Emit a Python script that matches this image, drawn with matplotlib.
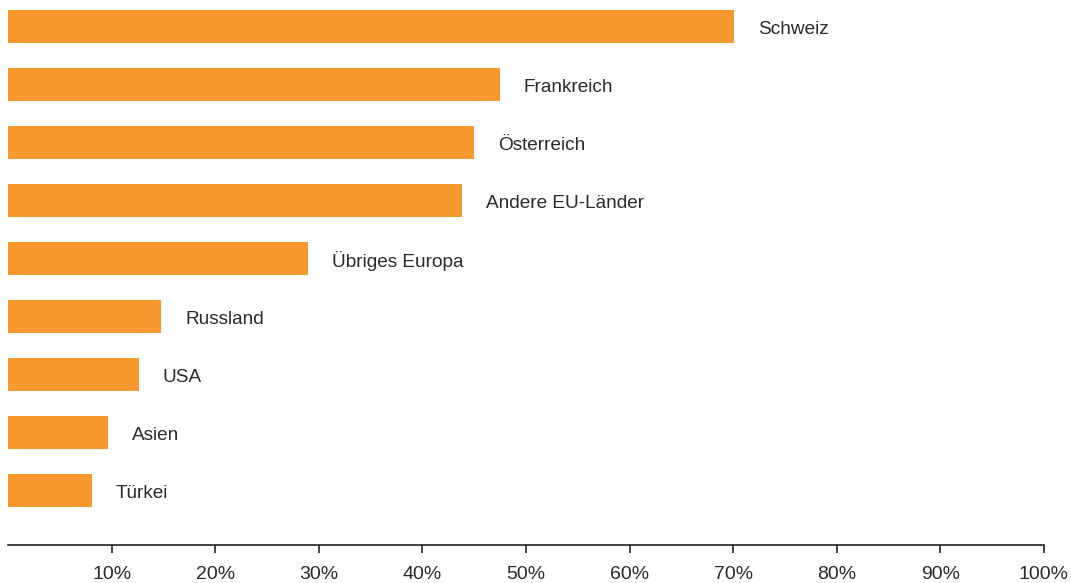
import matplotlib
matplotlib.use("Agg")
import matplotlib.pyplot as plt
from matplotlib.ticker import FixedLocator

plt.rcParams['font.family'] = ['Liberation Sans', 'DejaVu Sans']

# Daten (Anteil in %)
laender = ["Schweiz", "Frankreich", "Österreich", "Andere EU-Länder", "Übriges Europa",
           "Russland", "USA", "Asien", "Türkei"]
anteile = [70.1, 47.5, 45.0, 43.8, 29.0, 14.8, 12.6, 9.7, 8.1]
tick_werte = [10, 20, 30, 40, 50, 60, 70, 80, 90, 100]
tick_labels = ["10%", "20%", "30%", "40%", "50%", "60%", "70%", "80%", "90%", "100%"]

W, H = 1071, 583
fig = plt.figure(figsize=(W / 100, H / 100), dpi=100)
ax = fig.add_axes([8 / W, 38 / H, 1036 / W, 545 / H])

orange = "#F7992E"
pos = list(range(len(laender)))
ax.barh(pos, anteile, height=0.57, color=orange)

for p, v, name in zip(pos, anteile, laender):
    ax.text(v + 2.3, p + 0.05, name, va="center", ha="left", fontsize=13.7, color="#2a2a2a")

ax.set_xlim(0, 100)
ax.set_ylim(8.94, -0.457)

for s in ["top", "right", "left"]:
    ax.spines[s].set_visible(False)
ax.spines["bottom"].set_color("#222222")
ax.spines["bottom"].set_linewidth(1.2)

ax.set_yticks([])
ax.xaxis.set_major_locator(FixedLocator(tick_werte))
ax.set_xticklabels(tick_labels)
ax.tick_params(axis="x", length=6, width=1.2, color="#222222", labelsize=14,
               labelcolor="#2a2a2a", pad=9)

fig.savefig("out.png", dpi=100)
